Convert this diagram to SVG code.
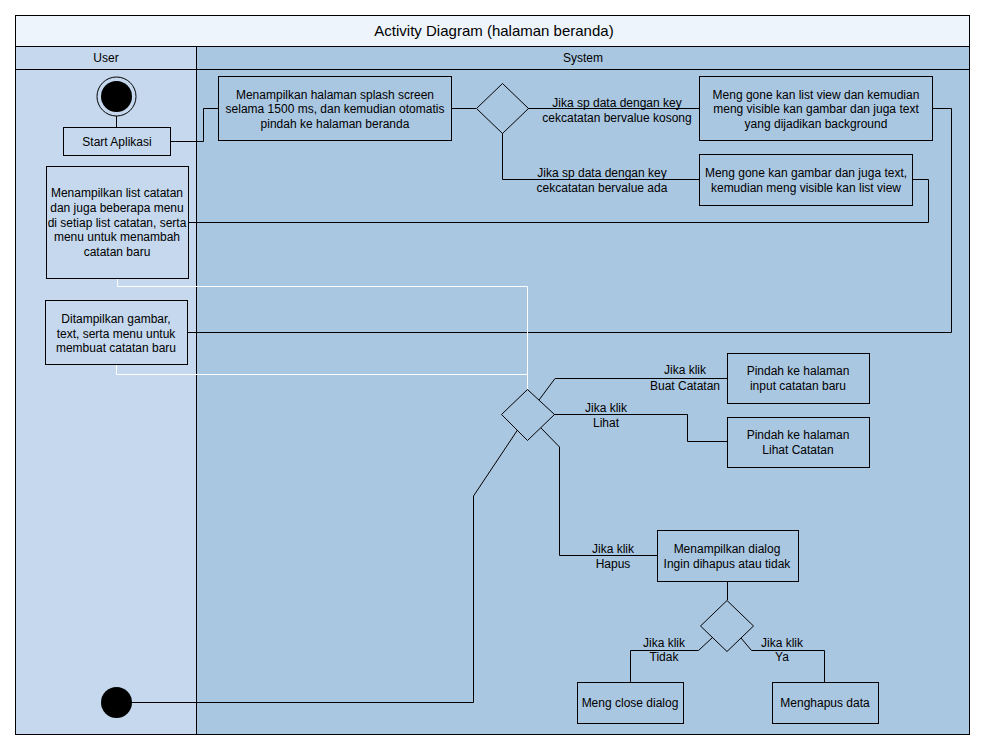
<svg xmlns="http://www.w3.org/2000/svg" width="986" height="750" viewBox="0 0 986 750">
<style>
text{font-family:"Liberation Sans",Arial,sans-serif;font-size:12px;fill:#000;text-anchor:middle}
.box{fill:none;stroke:#000;stroke-width:1}
.c{fill:none;stroke:#000;stroke-width:1}
.w{fill:none;stroke:#fff;stroke-width:1}
</style>
<rect x="0" y="0" width="986" height="750" fill="#fff"/>
<g id="frame">
<rect x="15.5" y="15.5" width="954" height="31" fill="#eef4fb" stroke="#000"/>
<text x="494" y="36" style="font-size:15px">Activity Diagram (halaman beranda)</text>
<rect x="15.5" y="46.5" width="181" height="688" fill="#c5d8ed" stroke="#000"/>
<rect x="196.5" y="46.5" width="773" height="688" fill="#aac7e2" stroke="#000"/>
<line x1="15.5" y1="69.5" x2="969.5" y2="69.5" stroke="#000"/>
<text x="106" y="62">User</text>
<text x="583" y="62">System</text>
</g>
<g id="connectors">
<line class="c" x1="116.5" y1="116" x2="116.5" y2="127"/>
<polyline class="c" points="170,141.5 203.5,141.5 203.5,108.5 218,108.5"/>
<line class="c" x1="451" y1="108.5" x2="476" y2="108.5"/>
<line class="c" x1="528" y1="108.5" x2="699" y2="108.5"/>
<polyline class="c" points="502.5,133 502.5,179.5 699,179.5"/>
<polyline class="c" points="932,108.5 951.5,108.5 951.5,332.5 187,332.5"/>
<polyline class="c" points="912,179.5 928.5,179.5 928.5,222.5 188,222.5"/>
<polyline class="w" points="117.5,278 117.5,286.5 527.5,286.5 527.5,389"/>
<polyline class="w" points="116.5,364 116.5,374.5 527.5,374.5"/>
<polyline class="c" points="539,400 555,378.5 727,378.5"/>
<polyline class="c" points="554,414.5 687.5,414.5 687.5,441.5 727,441.5"/>
<polyline class="c" points="541,428 559.5,447 559.5,555.5 657,555.5"/>
<line class="c" x1="727.5" y1="581" x2="727.5" y2="600"/>
<polyline class="c" points="713,637 698.5,650.5 630.5,650.5 630.5,682"/>
<polyline class="c" points="741,638 751.5,650.5 824.5,650.5 824.5,682"/>
<polyline class="c" points="131,702.5 473.5,702.5 473.5,496 517.5,430"/>
<text x="617" y="107">Jika sp data dengan key</text>
<text x="617" y="122">cekcatatan bervalue kosong</text>
<text x="602" y="177">Jika sp data dengan key</text>
<text x="602" y="192">cekcatatan bervalue ada</text>
<text x="685" y="374">Jika klik</text>
<text x="685" y="390">Buat Catatan</text>
<text x="606" y="412">Jika klik</text>
<text x="606" y="427">Lihat</text>
<text x="613" y="553">Jika klik</text>
<text x="613" y="568">Hapus</text>
<text x="664" y="647">Jika klik</text>
<text x="664" y="661">Tidak</text>
<text x="782" y="647">Jika klik</text>
<text x="782" y="661">Ya</text>
</g>
<g id="start">
<circle cx="116.5" cy="96.5" r="19.5" fill="none" stroke="#000"/>
<circle cx="116.5" cy="96.5" r="15.5" fill="#000"/>
</g>
<g id="start-aplikasi">
<rect class="box" x="63.5" y="127.5" width="107" height="28"/>
<text x="117" y="146">Start Aplikasi</text>
</g>
<g id="splash">
<rect class="box" x="218.5" y="76.5" width="233" height="64"/>
<text x="335" y="99">Menampilkan halaman splash screen</text>
<text x="335" y="113">selama 1500 ms, dan kemudian otomatis</text>
<text x="335" y="127.5">pindah ke halaman beranda</text>
</g>
<g id="decision1">
<polygon class="box" points="502.5,83.5 528.5,108.5 502.5,133.5 476.5,108.5"/>
</g>
<g id="gone-list">
<rect class="box" x="699.5" y="76.5" width="233" height="64"/>
<text x="816" y="99">Meng gone kan list view dan kemudian</text>
<text x="816" y="113">meng visible kan gambar dan juga text</text>
<text x="816" y="127.5">yang dijadikan background</text>
</g>
<g id="gone-gambar">
<rect class="box" x="699.5" y="154.5" width="213" height="51"/>
<text x="806" y="177">Meng gone kan gambar dan juga text,</text>
<text x="806" y="192">kemudian meng visible kan list view</text>
</g>
<g id="list-catatan">
<rect class="box" x="46.5" y="166.5" width="142" height="112"/>
<text x="117" y="197">Menampilkan list catatan</text>
<text x="117" y="212">dan juga beberapa menu</text>
<text x="117" y="227">di setiap list catatan, serta</text>
<text x="117" y="241">menu untuk menambah</text>
<text x="117" y="256">catatan baru</text>
</g>
<g id="ditampilkan">
<rect class="box" x="45.5" y="300.5" width="142" height="64"/>
<text x="116" y="323">Ditampilkan gambar,</text>
<text x="116" y="337.5">text, serta menu untuk</text>
<text x="116" y="352">membuat catatan baru</text>
</g>
<g id="decision2">
<polygon class="box" points="527.5,389.5 554.5,414.5 527.5,440.5 501.5,414.5"/>
</g>
<g id="pindah-input">
<rect class="box" x="727.5" y="353.5" width="142" height="50"/>
<text x="798" y="375">Pindah ke halaman</text>
<text x="798" y="390">input catatan baru</text>
</g>
<g id="pindah-lihat">
<rect class="box" x="727.5" y="417.5" width="142" height="50"/>
<text x="798" y="439">Pindah ke halaman</text>
<text x="798" y="454">Lihat Catatan</text>
</g>
<g id="dialog">
<rect class="box" x="657.5" y="530.5" width="141" height="51"/>
<text x="727" y="553">Menampilkan dialog</text>
<text x="727" y="568">Ingin dihapus atau tidak</text>
</g>
<g id="decision3">
<polygon class="box" points="727,600.5 753.5,626 727,651.5 700.5,626"/>
</g>
<g id="close-dialog">
<rect class="box" x="577.5" y="682.5" width="106" height="41"/>
<text x="630" y="707">Meng close dialog</text>
</g>
<g id="hapus-data">
<rect class="box" x="772.5" y="682.5" width="106" height="41"/>
<text x="825" y="707">Menghapus data</text>
</g>
<g id="end">
<circle cx="116.5" cy="702.5" r="15.5" fill="#000"/>
</g>
</svg>
